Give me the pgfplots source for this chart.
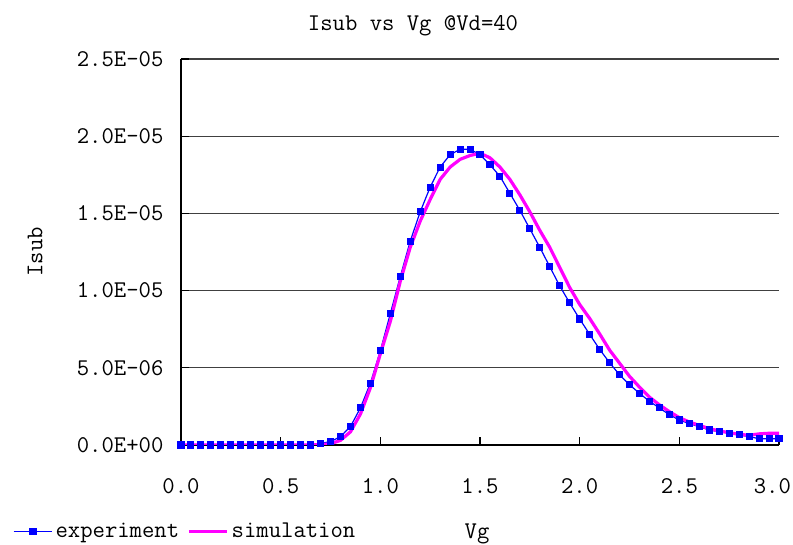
\documentclass[border=0pt]{standalone}
\usepackage{pgfplots}
\pgfplotsset{compat=1.18}
\usepackage{pgfplotstable}
\usepackage{fontspec}
\definecolor{expblue}{RGB}{0,0,255}
\definecolor{simmag}{RGB}{255,0,255}
\pgfplotstableread{
x y
0.00 0
0.05 0
0.10 0
0.15 0
0.20 0
0.25 0
0.30 0
0.35 0
0.40 0
0.45 0
0.50 0
0.55 0
0.60 0
0.65 0
0.70 0.10e-6
0.75 0.22e-6
0.80 0.54e-6
0.85 1.19e-6
0.90 2.40e-6
0.95 4.00e-6
1.00 6.10e-6
1.05 8.50e-6
1.10 10.9e-6
1.15 13.2e-6
1.20 15.1e-6
1.25 16.7e-6
1.30 18.0e-6
1.35 18.8e-6
1.40 19.15e-6
1.45 19.15e-6
1.50 18.8e-6
1.55 18.15e-6
1.60 17.4e-6
1.65 16.3e-6
1.70 15.2e-6
1.75 14.0e-6
1.80 12.8e-6
1.85 11.55e-6
1.90 10.3e-6
1.95 9.2e-6
2.00 8.16e-6
2.05 7.17e-6
2.10 6.2e-6
2.15 5.33e-6
2.20 4.55e-6
2.25 3.9e-6
2.30 3.35e-6
2.35 2.83e-6
2.40 2.4e-6
2.45 1.96e-6
2.50 1.62e-6
2.55 1.38e-6
2.60 1.19e-6
2.65 0.97e-6
2.70 0.86e-6
2.75 0.76e-6
2.80 0.65e-6
2.85 0.54e-6
2.90 0.41e-6
2.95 0.41e-6
3.00 0.41e-6
}\expdata
\pgfplotstableread{
x y
0.00 0
0.10 0
0.20 0
0.30 0
0.40 0
0.50 0
0.60 0
0.70 0.02e-6
0.75 0.08e-6
0.80 0.30e-6
0.85 0.85e-6
0.90 2.0e-6
0.95 3.7e-6
1.00 5.9e-6
1.05 8.0e-6
1.10 10.6e-6
1.15 12.8e-6
1.20 14.5e-6
1.25 15.9e-6
1.30 17.2e-6
1.35 18.0e-6
1.40 18.5e-6
1.45 18.75e-6
1.50 18.9e-6
1.55 18.6e-6
1.60 18.0e-6
1.65 17.2e-6
1.70 16.2e-6
1.75 15.1e-6
1.80 13.9e-6
1.85 12.8e-6
1.90 11.5e-6
1.95 10.2e-6
2.00 9.1e-6
2.05 8.2e-6
2.10 7.2e-6
2.15 6.15e-6
2.20 5.3e-6
2.25 4.45e-6
2.30 3.75e-6
2.35 3.1e-6
2.40 2.6e-6
2.45 2.16e-6
2.50 1.77e-6
2.55 1.49e-6
2.60 1.27e-6
2.65 1.06e-6
2.70 0.91e-6
2.75 0.80e-6
2.80 0.69e-6
2.85 0.63e-6
2.90 0.72e-6
2.95 0.76e-6
3.00 0.76e-6
}\simdata
\begin{document}
\ttfamily\fontsize{18}{22}\selectfont
\begin{tikzpicture}
\useasboundingbox (0,0) rectangle (594.75pt,408.75pt);
\begin{axis}[
  at={(135.75pt,75pt)}, anchor=south west,
  scale only axis, width=448.5pt, height=289.5pt,
  xmin=0, xmax=3, ymin=0, ymax=2.5e-5,
  axis x line=bottom, axis y line=left,
  axis line style={-, line width=0.8pt},
  xtick={0,0.5,1,1.5,2,2.5,3},
  xticklabels={0.0,0.5,1.0,1.5,2.0,2.5,\hspace*{-10pt}3.0},
  ytick={0,5e-6,1e-5,1.5e-5,2e-5,2.5e-5},
  yticklabels={0.0E+00,5.0E-06,1.0E-05,1.5E-05,2.0E-05,2.5E-05},
  scaled y ticks=false,
  tick align=inside, major tick length=6pt,
  tick style={black, line width=0.8pt},
  ymajorgrids, grid style={black!75, line width=0.8pt},
  font=\ttfamily\fontsize{18}{22}\selectfont,
  xticklabel style={yshift=-19pt},
  yticklabel style={xshift=-7pt},
  every axis title shift=0pt,
  title={Isub vs Vg @Vd=40},
  title style={at={(0.388,1.085)}, anchor=center, yshift=0pt},
  xlabel={Vg}, xlabel style={at={(0.495,-0.23)}, anchor=center, yshift=0pt},
  ylabel={Isub}, ylabel style={at={(-0.244,0.50)}, anchor=center, xshift=0pt, yshift=0pt},
  legend columns=2,
  legend style={at={(-0.288,-0.225)}, anchor=west, draw=none, fill=none,
    font=\ttfamily\fontsize{18}{22}\selectfont,
    /tikz/every even column/.append style={column sep=4pt}},
  legend image code/.code={%
    \draw[#1] (0pt,0pt) -- (29pt,0pt);
    \draw[#1, only marks] plot coordinates {(14.5pt,0pt)};},
]
\addplot[expblue, line width=0.9pt, mark=square*, mark size=2.2pt,
  mark options={fill=expblue, draw=expblue}] table[x=x,y=y] {\expdata};
\addlegendentry{experiment}
\addplot[simmag, line width=2.4pt, no marks] table[x=x,y=y] {\simdata};
\addlegendentry{simulation}
\end{axis}
\end{tikzpicture}
\end{document}
